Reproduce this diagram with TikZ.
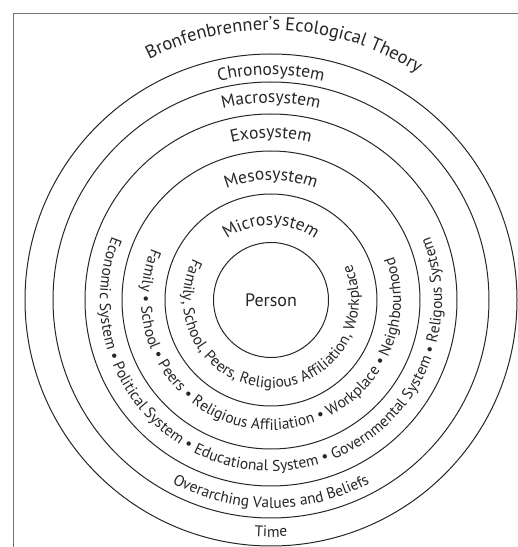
\documentclass[tikz,border=0pt]{standalone}
\usepackage{fontspec}
\newfontfamily\labfont{PT Sans}
\usetikzlibrary{decorations.text}
% font settings for the three kinds of curved labels
\newcommand\lbltitle{\labfont\fontsize{18.5}{18.5}\selectfont\color{black!85}}
\newcommand\lbltop{\labfont\fontsize{17.5}{17.5}\selectfont\color{black!85}}
\newcommand\lblbot{\labfont\fontsize{15.5}{15.5}\selectfont\color{black!85}}
\begin{document}
\begin{tikzpicture}[x=1pt,y=1pt,
  ring/.style={circle, draw=black!85, line width=1pt, inner sep=0pt, outer sep=0pt},
  frameline/.style={draw=black!55, line width=0.9pt},
  arctext/.style={decorate, decoration={text along path, text align=center, text={#1}}}]
\useasboundingbox (0,0) rectangle (518,547);
\coordinate (C) at (271,247);

% outer frame
\draw[frameline] (13,0) -- (13,534) -- (518,534);

% nested system rings
\node[ring, minimum size=115pt, font=\labfont\fontsize{18}{18}\selectfont, text=black!85] (person) at (C) {Person};
\node[ring, minimum size=212pt] (micro) at (C) {};
\node[ring, minimum size=298pt] (meso) at (C) {};
\node[ring, minimum size=372pt] (exo) at (C) {};
\node[ring, minimum size=436pt] (macro) at (C) {};
\node[ring, minimum size=492pt] (chrono) at (C) {};

% title above the rings
\path[arctext={|\lbltitle|Bronfenbrenner’s Ecological Theory}]
  ([shift={(177:270)}]C) arc[start angle=177, end angle=-3, radius=270];

% ring names along the top
\path[arctext={|\lbltop|Chronosystem}]
  ([shift={(170:225)}]C) arc[start angle=170, end angle=10, radius=225];
\path[arctext={|\lbltop|Macrosystem}]
  ([shift={(170:197)}]C) arc[start angle=170, end angle=10, radius=197];
\path[arctext={|\lbltop|Exosystem}]
  ([shift={(170:162)}]C) arc[start angle=170, end angle=10, radius=162];
\path[arctext={|\lbltop|Mesosystem}]
  ([shift={(170:120)}]C) arc[start angle=170, end angle=10, radius=120];
\path[arctext={|\lbltop|Microsystem}]
  ([shift={(170:75)}]C) arc[start angle=170, end angle=10, radius=75];

% ring contents along the bottom
\path[arctext={|\lblbot|Time}]
  ([shift={(100:237)}]C) arc[start angle=100, end angle=440, radius=237];
\path[arctext={|\lblbot|Overarching Values and Beliefs}]
  ([shift={(100:208)}]C) arc[start angle=100, end angle=440, radius=208];
\path[arctext={|\lblbot|Economic System • Political System • Educational System • Governmental System • Religous System}]
  ([shift={(100:171)}]C) arc[start angle=100, end angle=440, radius=171];
\path[arctext={|\lblbot|Family • School • Peers • Religious Affiliation • Workplace • Neighbourhood}]
  ([shift={(98:130)}]C) arc[start angle=98, end angle=438, radius=130];
\path[arctext={|\lblbot|Family, School, Peers, Religious Affiliation, Workplace}]
  ([shift={(98:88)}]C) arc[start angle=98, end angle=438, radius=88];
\end{tikzpicture}
\end{document}
